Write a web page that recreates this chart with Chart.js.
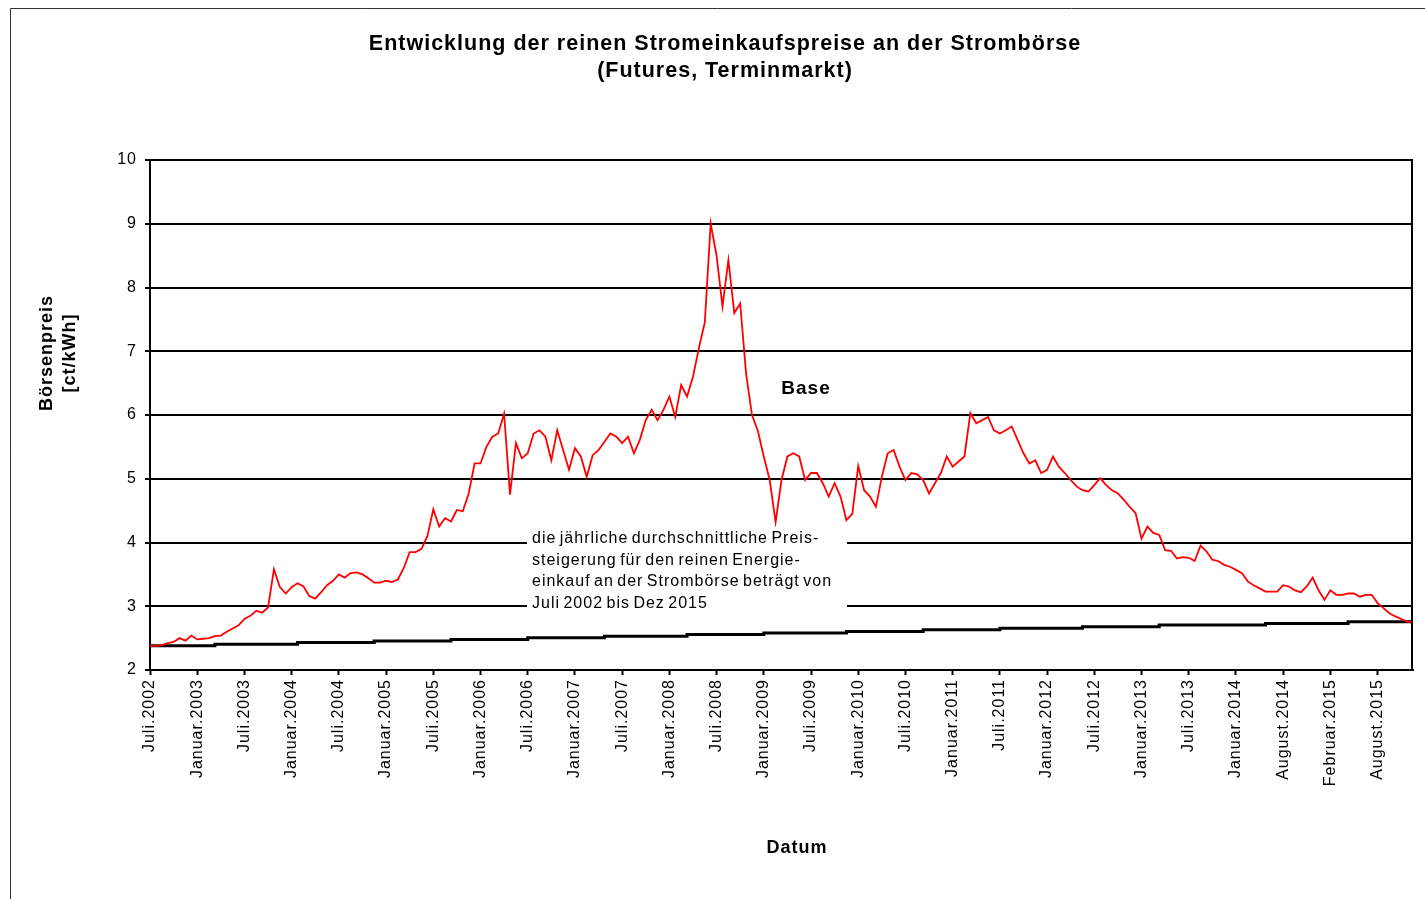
<!DOCTYPE html>
<html>
<head>
<meta charset="utf-8">
<title>Strombörse Base</title>
<script src="https://cdn.jsdelivr.net/npm/chart.js@4.4.1/dist/chart.umd.min.js"></script>
<style>
  html, body { margin: 0; padding: 0; background: #fff; }
  canvas { display: block; }
</style>
</head>
<body>
<canvas id="boerseChart" width="1425" height="899"></canvas>
<script>
// Tick labels on the date axis (one every 8 samples)
const xLabels = ['Juli.2002', 'Januar.2003', 'Juli.2003', 'Januar.2004', 'Juli.2004', 'Januar.2005',
    'Juli.2005', 'Januar.2006', 'Juli.2006', 'Januar.2007', 'Juli.2007', 'Januar.2008', 'Juli.2008',
    'Januar.2009', 'Juli.2009', 'Januar.2010', 'Juli.2010', 'Januar.2011', 'Juli.2011', 'Januar.2012',
    'Juli.2012', 'Januar.2013', 'Juli.2013', 'Januar.2014', 'August.2014', 'Februar.2015', 'August.2015'];
const samplesPerLabel = 8;
const lastSample = 214;

// Base futures price, ct/kWh
const basePrice = [
    2.38, 2.38, 2.39, 2.42, 2.44, 2.50, 2.46, 2.54, 2.48, 2.49,
    2.50, 2.53, 2.54, 2.60, 2.65, 2.70, 2.80, 2.85, 2.93, 2.90,
    2.98, 3.58, 3.30, 3.20, 3.30, 3.36, 3.31, 3.16, 3.12, 3.22,
    3.33, 3.40, 3.50, 3.45, 3.52, 3.53, 3.50, 3.44, 3.37, 3.37,
    3.40, 3.38, 3.42, 3.60, 3.85, 3.85, 3.90, 4.10, 4.52, 4.25,
    4.38, 4.33, 4.51, 4.49, 4.77, 5.24, 5.24, 5.50, 5.66, 5.71,
    6.02, 4.75, 5.56, 5.32, 5.40, 5.71, 5.76, 5.66, 5.29, 5.76,
    5.45, 5.14, 5.48, 5.35, 5.03, 5.37, 5.45, 5.58, 5.71, 5.66,
    5.56, 5.66, 5.40, 5.61, 5.92, 6.08, 5.92, 6.08, 6.29, 5.97,
    6.47, 6.29, 6.60, 7.05, 7.45, 9.00, 8.50, 7.70, 8.43, 7.60,
    7.75, 6.65, 6.00, 5.75, 5.35, 4.98, 4.32, 4.98, 5.35, 5.40,
    5.35, 4.98, 5.09, 5.09, 4.93, 4.72, 4.93, 4.72, 4.35, 4.45,
    5.20, 4.82, 4.72, 4.56, 5.03, 5.40, 5.45, 5.19, 4.98, 5.09,
    5.07, 4.98, 4.77, 4.93, 5.09, 5.35, 5.19, 5.27, 5.35, 6.03,
    5.87, 5.92, 5.97, 5.76, 5.71, 5.76, 5.82, 5.61, 5.40, 5.24,
    5.29, 5.09, 5.14, 5.35, 5.19, 5.09, 4.98, 4.88, 4.82, 4.80,
    4.90, 5.01, 4.90, 4.82, 4.77, 4.67, 4.56, 4.46, 4.06, 4.25,
    4.15, 4.12, 3.88, 3.87, 3.75, 3.77, 3.76, 3.71, 3.95, 3.86,
    3.73, 3.71, 3.65, 3.62, 3.57, 3.52, 3.39, 3.33, 3.28, 3.23,
    3.23, 3.23, 3.33, 3.31, 3.25, 3.22, 3.31, 3.45, 3.25, 3.10,
    3.25, 3.18, 3.18, 3.20, 3.20, 3.15, 3.18, 3.18, 3.05, 2.97,
    2.89, 2.84, 2.80, 2.76, 2.74
];

// Average yearly increase (black step line): sample where each step starts, and its level
const stepStart = [0, 11, 25, 38, 51, 64, 77, 91, 104, 118, 131, 144, 158, 171, 189, 203, 214];
const stepLevel = [2.38, 2.405, 2.43, 2.455, 2.48, 2.505, 2.53, 2.555, 2.58, 2.605, 2.63, 2.655, 2.68, 2.705, 2.73, 2.755, 2.755];

const yTicks = [2, 3, 4, 5, 6, 7, 8, 9, 10];

const FONT = "'Liberation Sans', Arial, sans-serif";
const noteLines = [
    'die jährliche durchschnittliche Preis-',
    'steigerung für den reinen Energie-',
    'einkauf an der Strombörse beträgt von',
    'Juli 2002 bis Dez 2015'
];

const decorPlugin = {
    id: 'decor',
    beforeDraw(chart) {
        const { ctx, width, height } = chart;
        ctx.save();
        ctx.fillStyle = '#fff';
        ctx.fillRect(0, 0, width, height);
        // outer frame (left + top only visible)
        ctx.strokeStyle = '#333';
        ctx.lineWidth = 1;
        ctx.beginPath();
        ctx.moveTo(10.5, height);
        ctx.lineTo(10.5, 8.5);
        ctx.lineTo(width, 8.5);
        ctx.stroke();
        ctx.restore();
        // Excel-like wide text
        ctx.letterSpacing = '1px';
    },
    afterDatasetsDraw(chart) {
        const { ctx, chartArea } = chart;
        ctx.save();
        // right border of plot area
        ctx.strokeStyle = '#000';
        ctx.lineWidth = 2;
        ctx.beginPath();
        ctx.moveTo(chartArea.right - 1, chartArea.top);
        ctx.lineTo(chartArea.right - 1, chartArea.bottom);
        ctx.stroke();

        // note box
        ctx.fillStyle = '#fff';
        ctx.fillRect(527, 527, 320, 87);
        ctx.fillStyle = '#000';
        ctx.font = '16px ' + FONT;
        ctx.wordSpacing = '-2px';
        ctx.textAlign = 'left';
        ctx.textBaseline = 'middle';
        noteLines.forEach((line, i) => ctx.fillText(line, 532, 539 + i * 21.5));
        ctx.wordSpacing = '0px';

        // series label
        ctx.font = 'bold 19px ' + FONT;
        ctx.textAlign = 'center';
        ctx.fillText('Base', 806, 389);

        // axis titles
        ctx.font = 'bold 18px ' + FONT;
        ctx.fillText('Datum', 797, 848);
        ctx.save();
        ctx.translate(47, 353);
        ctx.rotate(-Math.PI / 2);
        ctx.fillText('Börsenpreis', 0, 0);
        ctx.restore();
        ctx.save();
        ctx.translate(70, 353);
        ctx.rotate(-Math.PI / 2);
        ctx.fillText('[ct/kWh]', 0, 0);
        ctx.restore();
        ctx.restore();
    }
};

function drawChart() {
    const canvas = document.getElementById('boerseChart');
    const ctx = canvas.getContext('2d');

    new Chart(ctx, {
        type: 'line',
        data: {
            datasets: [
                {
                    label: 'Base',
                    data: basePrice.map((v, i) => ({ x: i, y: v })),
                    borderColor: '#ff0000',
                    borderWidth: 1.8,
                    pointRadius: 0,
                    tension: 0,
                    order: 1
                },
                {
                    label: 'Preissteigerung',
                    data: stepStart.map((s, k) => ({ x: s, y: stepLevel[k] })),
                    borderColor: '#000',
                    borderWidth: 3,
                    pointRadius: 0,
                    stepped: true,
                    order: 2
                }
            ]
        },
        options: {
            responsive: false,
            animation: false,
            layout: { padding: { top: 0, left: 37, right: 12, bottom: 0 } },
            plugins: {
                legend: { display: false },
                tooltip: { enabled: false },
                title: {
                    display: true,
                    text: ['Entwicklung der reinen Stromeinkaufspreise an der Strombörse', '(Futures, Terminmarkt)'],
                    color: '#000',
                    font: { family: FONT, size: 21.5, weight: 'bold', lineHeight: 1.27 },
                    padding: { top: 30.35, bottom: 75.05 }
                }
            },
            scales: {
                x: {
                    type: 'linear',
                    min: 0,
                    max: lastSample,
                    afterBuildTicks: axis => {
                        axis.ticks = xLabels.map((_, i) => ({ value: i * samplesPerLabel }));
                    },
                    afterFit: axis => { axis.height = 229; },
                    grid: { drawOnChartArea: false, tickLength: 5, tickColor: '#000', tickWidth: 2 },
                    border: { color: '#000', width: 2 },
                    ticks: {
                        autoSkip: false,
                        minRotation: 90,
                        maxRotation: 90,
                        padding: 4,
                        color: '#000',
                        font: { family: FONT, size: 16 },
                        callback: (value, index) => xLabels[index]
                    }
                },
                y: {
                    min: 2,
                    max: 10,
                    afterBuildTicks: axis => {
                        axis.ticks = yTicks.map(v => ({ value: v }));
                    },
                    afterFit: axis => { axis.width = 113; },
                    grid: { color: '#000', lineWidth: 2, tickLength: 5, tickColor: '#000' },
                    border: { color: '#000', width: 2 },
                    ticks: {
                        padding: 8,
                        color: '#000',
                        font: { family: FONT, size: 16 }
                    }
                }
            }
        },
        plugins: [decorPlugin]
    });
}

drawChart();
</script>
</body>
</html>
